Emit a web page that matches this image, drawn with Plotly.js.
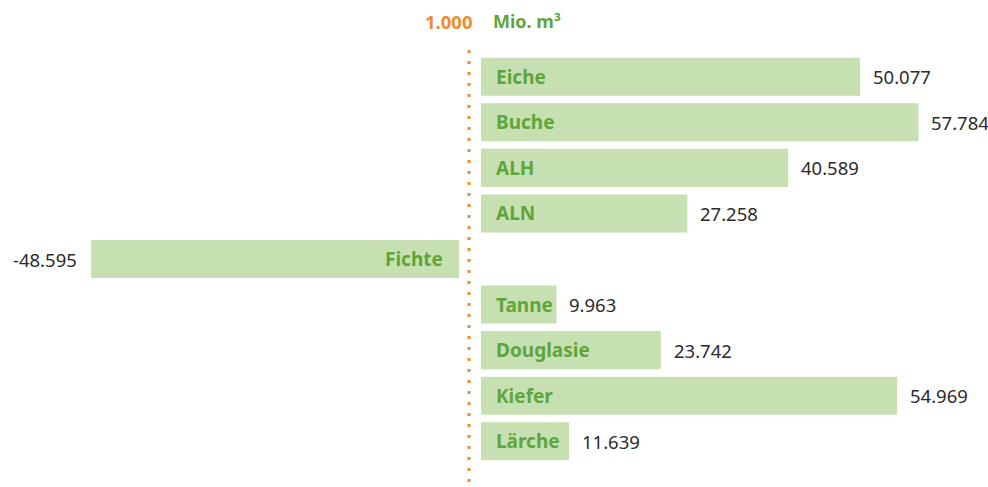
<!DOCTYPE html>
<html>
<head>
<meta charset="utf-8">
<script src="https://cdn.plot.ly/plotly-3.0.1.min.js"></script>
<style>html,body{margin:0;padding:0;background:#fff;}#chart{width:988px;height:487px;}</style>
</head>
<body>
<div id="chart"></div>
<script>
const categories = ["Eiche", "Buche", "ALH", "ALN", "Fichte", "Tanne", "Douglasie", "Kiefer", "Lärche"];
const values = [50.077, 57.784, 40.589, 27.258, -48.595, 9.963, 23.742, 54.969, 11.639];
const unitLabel = "1.000";
const unitName = "Mio. m³";

const BAR = "#c6e0b1";
const GREEN = "#5fa53b";
const ORANGE = "#f28a2c";
const DARK = "#2b2b2b";
const FONT = "Noto Sans, Open Sans, sans-serif";

const W = 988;
const pxPerUnit = 7.57;
const posStart = 481, negEnd = 459, zeroX = 469;

const posCats = [], posVals = [], negCats = [], negVals = [];
categories.forEach((c, i) => {
  if (values[i] >= 0) { posCats.push(c); posVals.push(values[i]); }
  else { negCats.push(c); negVals.push(values[i]); }
});

const fmt = v => v.toFixed(3);

const traces = [
  { type: "bar", orientation: "h", y: posCats, x: posVals, xaxis: "x", yaxis: "y",
    marker: { color: BAR }, hoverinfo: "y+x", showlegend: false },
  { type: "bar", orientation: "h", y: negCats, x: negVals, xaxis: "x2", yaxis: "y",
    marker: { color: BAR }, hoverinfo: "y+x", showlegend: false }
];

const annotations = [];
categories.forEach((c, i) => {
  const v = values[i];
  const pos = v >= 0;
  annotations.push({
    xref: pos ? "x" : "x2", yref: "y", x: 0, y: c, text: "<b>" + c + "</b>",
    showarrow: false, xanchor: pos ? "left" : "right", xshift: pos ? 13 : -14,
    font: { family: FONT, size: 19, color: GREEN }
  });
  annotations.push({
    xref: pos ? "x" : "x2", yref: "y", x: v, y: c, text: fmt(v),
    showarrow: false, xanchor: pos ? "left" : "right", xshift: pos ? 11 : -12,
    font: { family: FONT, size: 18.5, color: DARK }
  });
});
annotations.push({
  xref: "paper", yref: "paper", x: 475 / W, y: 1.08, yanchor: "middle",
  text: "<b>" + unitLabel + "</b>", showarrow: false, xanchor: "right",
  font: { family: FONT, size: 18.5, color: ORANGE }
});
annotations.push({
  xref: "paper", yref: "paper", x: 491 / W, y: 1.08, yanchor: "middle",
  text: "<b>" + unitName + "</b>", showarrow: false, xanchor: "left",
  font: { family: FONT, size: 18, color: GREEN }
});

const axisCommon = { showgrid: false, zeroline: false, showticklabels: false, ticks: "", showline: false, fixedrange: true };

const layout = {
  width: 988, height: 487,
  margin: { l: 0, r: 0, t: 54, b: 23, pad: 0 },
  paper_bgcolor: "#fff", plot_bgcolor: "#fff",
  barmode: "overlay", bargap: 0.165,
  font: { family: FONT, size: 18, color: DARK },
  xaxis: Object.assign({}, axisCommon, { domain: [posStart / W, 1], range: [0, (W - posStart) / pxPerUnit], anchor: "y" }),
  xaxis2: Object.assign({}, axisCommon, { domain: [0, negEnd / W], range: [-negEnd / pxPerUnit, 0], anchor: "y" }),
  yaxis: Object.assign({}, axisCommon, { type: "category", categoryorder: "array", categoryarray: categories, autorange: "reversed" }),
  shapes: [{
    type: "line", xref: "paper", yref: "paper", x0: zeroX / W, x1: zeroX / W, y0: 1.01, y1: -0.07,
    line: { color: ORANGE, width: 3, dash: "3px,8px" }
  }],
  annotations: annotations
};

Plotly.newPlot("chart", traces, layout, { displayModeBar: false, staticPlot: true });
</script>
</body>
</html>
